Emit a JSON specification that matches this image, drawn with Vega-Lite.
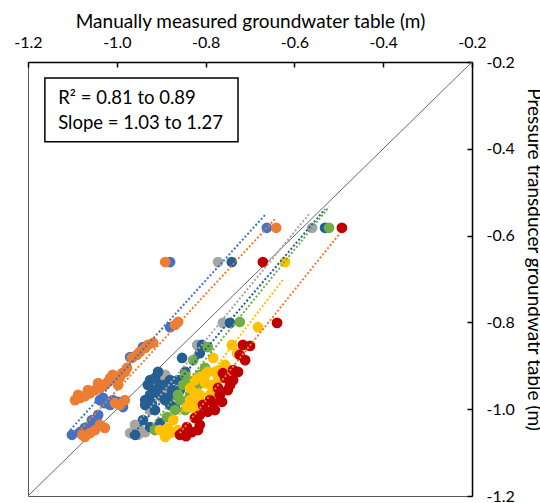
{
  "$schema": "https://vega.github.io/schema/vega-lite/v6.json",
  "width": 444,
  "height": 434,
  "autosize": {"type": "none"},
  "padding": {"left": 28, "top": 62, "right": 68, "bottom": 7},
  "background": "white",
  "config": {
    "font": "Lato",
    "view": {"stroke": "#595959", "strokeWidth": 1},
    "axis": {"grid": false, "domainColor": "#000000", "domainWidth": 1.5, "tickColor": "#000000", "tickWidth": 1.5, "labelColor": "#000000", "titleColor": "#000000", "labelFont": "Lato", "titleFont": "Lato", "titleFontWeight": "normal"}
  },
  "datasets": {
    "pts": [
      {"site": "A", "x": -0.880, "y": -0.661}, {"site": "A", "x": -0.662, "y": -0.582}, {"site": "A", "x": -0.880, "y": -0.811}, {"site": "A", "x": -0.941, "y": -0.857}, {"site": "A", "x": -0.970, "y": -0.880}, {"site": "A", "x": -1.038, "y": -0.979}, {"site": "A", "x": -1.027, "y": -0.986}, {"site": "A", "x": -1.015, "y": -0.990}, {"site": "A", "x": -0.997, "y": -0.983}, {"site": "A", "x": -0.986, "y": -0.995}, {"site": "A", "x": -1.056, "y": -1.025}, {"site": "A", "x": -1.049, "y": -1.036}, {"site": "A", "x": -1.065, "y": -1.041}, {"site": "A", "x": -1.072, "y": -1.043}, {"site": "A", "x": -1.101, "y": -1.059}, {"site": "A", "x": -1.042, "y": -1.013},
      {"site": "A", "x": -1.031, "y": -0.974}, {"site": "A", "x": -1.009, "y": -0.979}, {"site": "A", "x": -1.045, "y": -1.029}, {"site": "A", "x": -1.083, "y": -1.053},
      {"site": "B", "x": -0.891, "y": -0.661}, {"site": "B", "x": -0.641, "y": -0.582}, {"site": "B", "x": -0.869, "y": -0.806}, {"site": "B", "x": -0.862, "y": -0.799}, {"site": "B", "x": -0.930, "y": -0.852}, {"site": "B", "x": -0.918, "y": -0.847}, {"site": "B", "x": -0.936, "y": -0.859}, {"site": "B", "x": -0.955, "y": -0.875}, {"site": "B", "x": -0.966, "y": -0.882}, {"site": "B", "x": -0.982, "y": -0.914}, {"site": "B", "x": -0.993, "y": -0.926}, {"site": "B", "x": -1.004, "y": -0.933}, {"site": "B", "x": -1.015, "y": -0.928}, {"site": "B", "x": -1.027, "y": -0.944}, {"site": "B", "x": -1.038, "y": -0.951}, {"site": "B", "x": -1.049, "y": -0.956}, {"site": "B", "x": -1.060, "y": -0.963}, {"site": "B", "x": -1.072, "y": -0.970}, {"site": "B", "x": -1.083, "y": -0.974}, {"site": "B", "x": -1.094, "y": -0.979}, {"site": "B", "x": -1.004, "y": -0.986}, {"site": "B", "x": -0.993, "y": -0.990}, {"site": "B", "x": -0.982, "y": -0.979}, {"site": "B", "x": -1.038, "y": -1.036}, {"site": "B", "x": -1.049, "y": -1.048}, {"site": "B", "x": -1.060, "y": -1.055}, {"site": "B", "x": -1.078, "y": -1.059},
      {"site": "B", "x": -1.087, "y": -0.967}, {"site": "B", "x": -1.065, "y": -0.956}, {"site": "B", "x": -1.042, "y": -0.940}, {"site": "B", "x": -1.020, "y": -0.937}, {"site": "B", "x": -1.009, "y": -0.921}, {"site": "B", "x": -0.988, "y": -0.917}, {"site": "B", "x": -0.977, "y": -0.905}, {"site": "B", "x": -0.997, "y": -0.944}, {"site": "B", "x": -0.948, "y": -0.868}, {"site": "B", "x": -1.027, "y": -1.043}, {"site": "B", "x": -1.072, "y": -1.064},
      {"site": "C", "x": -0.772, "y": -0.661}, {"site": "C", "x": -0.560, "y": -0.582}, {"site": "C", "x": -0.761, "y": -0.801}, {"site": "C", "x": -0.819, "y": -0.852}, {"site": "C", "x": -0.903, "y": -0.933}, {"site": "C", "x": -0.896, "y": -0.944}, {"site": "C", "x": -0.887, "y": -0.956}, {"site": "C", "x": -0.914, "y": -0.960}, {"site": "C", "x": -0.880, "y": -0.967}, {"site": "C", "x": -0.891, "y": -0.921}, {"site": "C", "x": -0.970, "y": -1.055}, {"site": "C", "x": -0.948, "y": -1.048}, {"site": "C", "x": -0.959, "y": -1.036}, {"site": "C", "x": -0.925, "y": -1.002},
      {"site": "C", "x": -0.907, "y": -0.951}, {"site": "C", "x": -0.898, "y": -0.974}, {"site": "C", "x": -0.921, "y": -0.944}, {"site": "C", "x": -0.885, "y": -0.937}, {"site": "C", "x": -0.952, "y": -1.059}, {"site": "C", "x": -0.936, "y": -1.053},
      {"site": "D", "x": -0.741, "y": -0.661}, {"site": "D", "x": -0.531, "y": -0.582}, {"site": "D", "x": -0.745, "y": -0.801}, {"site": "D", "x": -0.808, "y": -0.852}, {"site": "D", "x": -0.853, "y": -0.882}, {"site": "D", "x": -0.813, "y": -0.871}, {"site": "D", "x": -0.936, "y": -0.979}, {"site": "D", "x": -0.925, "y": -0.967}, {"site": "D", "x": -0.914, "y": -0.956}, {"site": "D", "x": -0.903, "y": -0.944}, {"site": "D", "x": -0.891, "y": -0.979}, {"site": "D", "x": -0.880, "y": -0.990}, {"site": "D", "x": -0.869, "y": -0.967}, {"site": "D", "x": -0.858, "y": -0.956}, {"site": "D", "x": -0.925, "y": -0.933}, {"site": "D", "x": -0.936, "y": -0.990}, {"site": "D", "x": -0.959, "y": -1.059}, {"site": "D", "x": -0.941, "y": -1.025}, {"site": "D", "x": -0.925, "y": -1.041}, {"site": "D", "x": -0.903, "y": -1.032}, {"site": "D", "x": -0.880, "y": -0.933}, {"site": "D", "x": -0.914, "y": -1.002},
      {"site": "D", "x": -0.930, "y": -0.944}, {"site": "D", "x": -0.914, "y": -0.928}, {"site": "D", "x": -0.891, "y": -0.944}, {"site": "D", "x": -0.876, "y": -0.956}, {"site": "D", "x": -0.862, "y": -0.933}, {"site": "D", "x": -0.903, "y": -0.967}, {"site": "D", "x": -0.921, "y": -0.986}, {"site": "D", "x": -0.885, "y": -0.974}, {"site": "D", "x": -0.869, "y": -0.997}, {"site": "D", "x": -0.846, "y": -0.914}, {"site": "D", "x": -0.907, "y": -0.914},
      {"site": "E", "x": -0.522, "y": -0.582}, {"site": "E", "x": -0.723, "y": -0.799}, {"site": "E", "x": -0.795, "y": -0.857}, {"site": "E", "x": -0.828, "y": -0.887}, {"site": "E", "x": -0.835, "y": -0.937}, {"site": "E", "x": -0.846, "y": -0.921}, {"site": "E", "x": -0.824, "y": -0.956}, {"site": "E", "x": -0.858, "y": -0.979}, {"site": "E", "x": -0.813, "y": -0.921}, {"site": "E", "x": -0.869, "y": -1.002}, {"site": "E", "x": -0.887, "y": -1.018}, {"site": "E", "x": -0.914, "y": -1.048}, {"site": "E", "x": -0.835, "y": -0.967},
      {"site": "E", "x": -0.851, "y": -0.944}, {"site": "E", "x": -0.840, "y": -0.979}, {"site": "E", "x": -0.824, "y": -0.990}, {"site": "E", "x": -0.817, "y": -0.944}, {"site": "E", "x": -0.846, "y": -1.002}, {"site": "E", "x": -0.801, "y": -0.905}, {"site": "E", "x": -0.862, "y": -0.967},
      {"site": "F", "x": -0.621, "y": -0.661}, {"site": "F", "x": -0.682, "y": -0.811}, {"site": "F", "x": -0.741, "y": -0.852}, {"site": "F", "x": -0.729, "y": -0.871}, {"site": "F", "x": -0.783, "y": -0.882}, {"site": "F", "x": -0.813, "y": -0.926}, {"site": "F", "x": -0.801, "y": -0.940}, {"site": "F", "x": -0.790, "y": -0.944}, {"site": "F", "x": -0.783, "y": -0.956}, {"site": "F", "x": -0.824, "y": -0.963}, {"site": "F", "x": -0.835, "y": -0.979}, {"site": "F", "x": -0.842, "y": -0.995}, {"site": "F", "x": -0.801, "y": -0.921}, {"site": "F", "x": -0.779, "y": -0.914}, {"site": "F", "x": -0.768, "y": -0.910}, {"site": "F", "x": -0.903, "y": -1.048}, {"site": "F", "x": -0.891, "y": -1.064}, {"site": "F", "x": -0.880, "y": -1.055}, {"site": "F", "x": -0.873, "y": -1.025}, {"site": "F", "x": -0.813, "y": -0.967},
      {"site": "F", "x": -0.824, "y": -0.933}, {"site": "F", "x": -0.795, "y": -0.914}, {"site": "F", "x": -0.772, "y": -0.933}, {"site": "F", "x": -0.790, "y": -0.967}, {"site": "F", "x": -0.813, "y": -0.983}, {"site": "F", "x": -0.828, "y": -0.997}, {"site": "F", "x": -0.835, "y": -0.951}, {"site": "F", "x": -0.756, "y": -0.898}, {"site": "F", "x": -0.885, "y": -1.043}, {"site": "F", "x": -0.862, "y": -1.048},
      {"site": "G", "x": -0.671, "y": -0.661}, {"site": "G", "x": -0.493, "y": -0.582}, {"site": "G", "x": -0.639, "y": -0.801}, {"site": "G", "x": -0.716, "y": -0.852}, {"site": "G", "x": -0.700, "y": -0.854}, {"site": "G", "x": -0.723, "y": -0.875}, {"site": "G", "x": -0.761, "y": -0.917}, {"site": "G", "x": -0.745, "y": -0.944}, {"site": "G", "x": -0.756, "y": -0.928}, {"site": "G", "x": -0.768, "y": -0.967}, {"site": "G", "x": -0.783, "y": -0.986}, {"site": "G", "x": -0.806, "y": -0.990}, {"site": "G", "x": -0.790, "y": -0.979}, {"site": "G", "x": -0.772, "y": -0.951}, {"site": "G", "x": -0.824, "y": -1.020}, {"site": "G", "x": -0.813, "y": -1.036}, {"site": "G", "x": -0.842, "y": -1.041}, {"site": "G", "x": -0.853, "y": -1.055}, {"site": "G", "x": -0.831, "y": -1.053}, {"site": "G", "x": -0.858, "y": -1.059}, {"site": "G", "x": -0.738, "y": -0.910},
      {"site": "G", "x": -0.750, "y": -0.956}, {"site": "G", "x": -0.779, "y": -1.002}, {"site": "G", "x": -0.795, "y": -1.006}, {"site": "G", "x": -0.763, "y": -0.983}, {"site": "G", "x": -0.738, "y": -0.933}, {"site": "G", "x": -0.727, "y": -0.914}, {"site": "G", "x": -0.817, "y": -1.048}, {"site": "G", "x": -0.844, "y": -1.062}, {"site": "G", "x": -0.813, "y": -1.013}, {"site": "G", "x": -0.711, "y": -0.887}
    ],
    "trend": [
      {"site": "A", "x": -1.105, "y": -1.048, "x2": -0.664, "y2": -0.550},
      {"site": "B", "x": -1.087, "y": -1.053, "x2": -0.644, "y2": -0.562},
      {"site": "C", "x": -0.970, "y": -1.053, "x2": -0.565, "y2": -0.548},
      {"site": "D", "x": -0.959, "y": -1.053, "x2": -0.531, "y2": -0.539},
      {"site": "E", "x": -0.925, "y": -1.043, "x2": -0.522, "y2": -0.534},
      {"site": "F", "x": -0.898, "y": -1.064, "x2": -0.626, "y2": -0.702},
      {"site": "G", "x": -0.858, "y": -1.055, "x2": -0.497, "y2": -0.594}
    ],
    "diag": [{"x": -1.2, "y": -1.2, "x2": -0.2, "y2": -0.2}],
    "box": [{"x": -1.162, "y": -0.237, "x2": -0.727, "y2": -0.384}],
    "notes": [
      {"x": -1.132, "y": -0.283, "t": "R² = 0.81 to 0.89"},
      {"x": -1.132, "y": -0.341, "t": "Slope = 1.03 to 1.27"}
    ]
  },
  "encoding": {
    "x": {
      "field": "x", "type": "quantitative",
      "scale": {"domain": [-1.2, -0.2], "nice": false, "zero": false},
      "axis": {
        "orient": "top", "title": "Manually measured groundwater table (m)",
        "values": [-1.2, -1.0, -0.8, -0.6, -0.4, -0.2],
        "labelExpr": "replace(format(datum.value, '.1f'), '−', '-')",
        "labelFontSize": 16, "titleFontSize": 19, "tickSize": -5,
        "labelPadding": 17, "titlePadding": 3, "labelFlush": false, "labelOverlap": false
      }
    },
    "y": {
      "field": "y", "type": "quantitative",
      "scale": {"domain": [-1.2, -0.2], "nice": false, "zero": false},
      "axis": {
        "orient": "right", "title": "Pressure transducer groundwatr table (m)",
        "values": [-1.2, -1.0, -0.8, -0.6, -0.4, -0.2],
        "labelExpr": "replace(format(datum.value, '.1f'), '−', '-')",
        "labelFontSize": 16, "titleFontSize": 19, "tickSize": -5,
        "labelPadding": 19, "labelFlush": false, "labelOverlap": false,
        "titleAngle": 90, "titleX": 61, "titleY": 197, "titleAlign": "center", "titleBaseline": "middle"
      }
    }
  },
  "layer": [
    {
      "data": {"name": "diag"},
      "mark": {"type": "rule", "color": "#666666", "strokeWidth": 1},
      "encoding": {"x2": {"field": "x2"}, "y2": {"field": "y2"}}
    },
    {
      "data": {"name": "pts"},
      "mark": {"type": "circle", "size": 115, "opacity": 1},
      "encoding": {
        "color": {"field": "site", "type": "nominal", "legend": null,
          "scale": {"domain": ["A", "B", "C", "D", "E", "F", "G"], "range": ["#4472C4", "#ED7D31", "#A5A5A5", "#255E91", "#70AD47", "#FFC000", "#C00000"]}}
      }
    },
    {
      "data": {"name": "trend"},
      "mark": {"type": "rule", "strokeWidth": 2, "strokeDash": [2, 2]},
      "encoding": {
        "x2": {"field": "x2"}, "y2": {"field": "y2"},
        "stroke": {"field": "site", "type": "nominal", "legend": null,
          "scale": {"domain": ["A", "B", "C", "D", "E", "F", "G"], "range": ["#4472C4", "#ED7D31", "#A5A5A5", "#255E91", "#70AD47", "#FFC000", "#ED7D31"]}}
      }
    },
    {
      "data": {"name": "box"},
      "mark": {"type": "rect", "fill": "white", "stroke": "#000000", "strokeWidth": 1.5},
      "encoding": {"x2": {"field": "x2"}, "y2": {"field": "y2"}}
    },
    {
      "data": {"name": "notes"},
      "mark": {"type": "text", "align": "left", "baseline": "middle", "fontSize": 18.5, "font": "Lato", "color": "#000000"},
      "encoding": {"text": {"field": "t"}}
    }
  ]
}
